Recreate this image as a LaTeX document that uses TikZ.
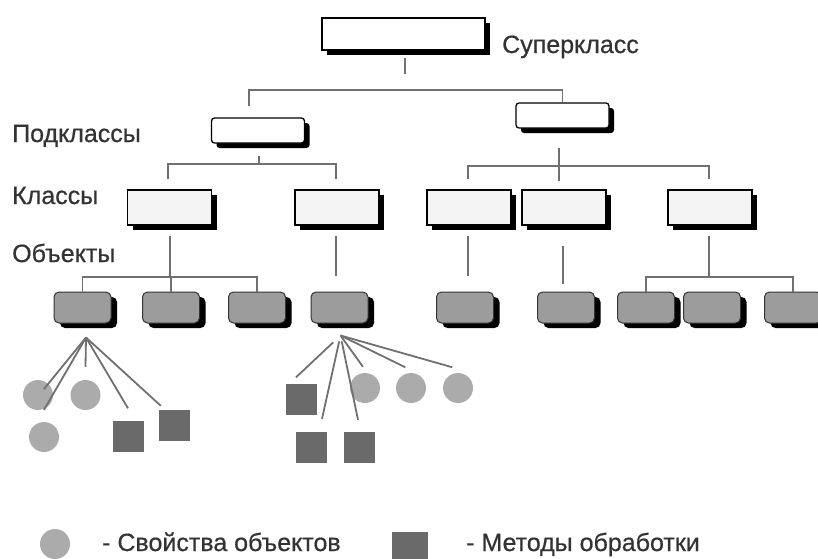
\documentclass[tikz,border=0pt]{standalone}
\usepackage{fontspec}
\setmainfont{Liberation Sans}
\newfontfamily\lblfont{Liberation Sans}[FakeBold=0.6]
\usetikzlibrary{shadows,calc}
\definecolor{txt}{HTML}{333333}
\definecolor{lnk}{HTML}{707070}
\definecolor{objfill}{HTML}{9C9C9C}
\definecolor{clsfill}{HTML}{F4F4F4}
\definecolor{propfill}{HTML}{ABABAB}
\definecolor{methfill}{HTML}{6A6A6A}
\tikzset{
  lbl/.style={anchor=base west, text=txt, inner sep=0pt, font=\lblfont\fontsize{25}{29}\selectfont},
  shd/.style={drop shadow={shadow xshift=5pt, shadow yshift=-5pt, fill=black, opacity=1}},
  supbox/.style={draw=black, line width=2.2pt, fill=white, minimum width=163pt, minimum height=32pt, inner sep=0pt, shd},
  subbox/.style={draw=black, line width=1.3pt, fill=white, rounded corners=3pt, minimum width=93pt, minimum height=25pt, inner sep=0pt, shd},
  clsbox/.style={draw=black, line width=1.3pt, fill=clsfill, minimum width=84pt, minimum height=35pt, inner sep=0pt, shd},
  objbox/.style={draw=black!80, line width=1pt, fill=objfill, rounded corners=5pt, minimum width=57pt, minimum height=31pt, inner sep=0pt, drop shadow={shadow xshift=6pt, shadow yshift=-5pt, fill=black, opacity=1}},
  prop/.style={circle, fill=propfill, minimum size=30pt, inner sep=0pt},
  meth/.style={rectangle, fill=methfill, minimum size=31pt, inner sep=0pt},
  link/.style={draw=lnk, line width=1.8pt},
}
\begin{document}
\begin{tikzpicture}[x=1pt,y=-1pt]
\useasboundingbox (0,0) rectangle (818,558);
% superclass
\node[supbox] (sup) at (403.5,34) {};
\node[lbl] (supL) at (502,53) {Суперкласс};
% subclasses
\node[subbox] (sub1) at (258,130.5) {};
\node[subbox] (sub2) at (562.5,115.5) {};
\node[lbl] (subL) at (12,142) {Подклассы};
% classes
\node[clsbox] (c1) at (169.5,207.5) {};
\node[clsbox] (c2) at (337,207.5) {};
\node[clsbox] (c3) at (469,207.5) {};
\node[clsbox] (c4) at (564,207.5) {};
\node[clsbox] (c5) at (710,207.5) {};
\node[lbl] (clsL) at (12,204) {Классы};
\node[lbl] (objL) at (12,262) {Объекты};
% objects
\node[objbox] (o1) at (82.5,307.5) {};
\node[objbox] (o2) at (171,307.5) {};
\node[objbox] (o3) at (257,307.5) {};
\node[objbox] (o4) at (339.5,307.5) {};
\node[objbox] (o5) at (465,307.5) {};
\node[objbox] (o6) at (566,307.5) {};
\node[objbox] (o7) at (646,307.5) {};
\node[objbox] (o8) at (712,307.5) {};
\node[objbox] (o9) at (793,307.5) {};
% tree connectors
\draw[link] ($(sup.south)+(1.5,7)$) -- ($(sup.south)+(1.5,23)$);
\coordinate (t1) at ($(sup.south)+(0,39)$);
\draw[link] ($(sub1.north)+(-9,-11)$) |- (t1) -| (sub2.north);
\draw[link] ($(sub1.south)+(1,12)$) -- ($(sub1.south)+(1,20)$);
\draw[link] ($(c1.north)+(-1.5,-10)$) |- ($(sub1.south)+(0,20)$) -| ($(c2.north)+(-1,-10)$);
\draw[link] ($(sub2.south)+(-3.5,19)$) -- ($(sub2.south)+(-3.5,52)$);
\draw[link] ($(c3.north)+(-1,-10)$) |- ($(sub2.south)+(0,37)$) -| ($(c5.north)+(-1,-10)$);
\draw[link] ($(c1.south)+(0.5,10)$) -- ($(c1.south)+(0.5,51)$);
\draw[link] (o1.north) |- ($(c1.south)+(0,51)$) -| (o3.north);
\draw[link] (o2.north) -- ($(c1.south)+(1.5,51)$);
\draw[link] ($(c2.south)+(-1,10)$) -- ($(c2.south)+(-1,50)$);
\draw[link] ($(c3.south)+(-1,10)$) -- ($(c3.south)+(-1,50)$);
\draw[link] ($(c4.south)+(-1,20)$) -- ($(c4.south)+(-1,58)$);
\draw[link] ($(c5.south)+(-1,10)$) -- ($(c5.south)+(-1,51)$);
\draw[link] (o7.north) |- ($(c5.south)+(0,51)$) -| (o9.north);
% properties and methods
\node[prop] (pa) at (38,395) {};
\node[prop] (pb) at (85.5,395) {};
\node[prop] (pc) at (44,437) {};
\node[meth] (ma) at (128,436) {};
\node[meth] (mb) at (174.5,425.5) {};
\node[prop] (pd) at (365,388) {};
\node[prop] (pe) at (411,388) {};
\node[prop] (pf) at (458,388) {};
\node[meth] (mc) at (301,399) {};
\node[meth] (md) at (311,447.5) {};
\node[meth] (me) at (359,447.5) {};
\coordinate (o1x) at ($(o1.south)+(3.5,14)$);
\coordinate (o4x) at ($(o4.south)+(1,12)$);
\draw[link] (o1x) -- ($(pa.north east)!0.45!(pa.center)$);
\draw[link] (o1x) -- ($(pc.north)+(0,-12)$);
\draw[link] (o1x) -- ($(pb.north)+(0,-13)$);
\draw[link] (o1x) -- ($(ma.north)+(0,-12)$);
\draw[link] (o1x) -- ($(mb.north west)+(2,-4)$);
\draw[link, shorten <=10pt] (o4x) -- ($(mc.north)+(-5,-6)$);
\draw[link, shorten <=6pt] (o4x) -- ($(md.north)+(11,-13)$);
\draw[link, shorten <=6pt] (o4x) -- ($(me.north)+(-1,-12)$);
\draw[link] (o4x) -- ($(pd.north)+(-2,-6)$);
\draw[link] (o4x) -- ($(pe.north west)+(5,-10)$);
\draw[link] (o4x) -- ($(pf.north west)+(5,-10)$);
% legend
\node[prop] (lp) at (55,544) {};
\node[lbl] (lpL) at (102,551) {- Свойства объектов};
\node[meth, minimum size=36pt] (lm) at (410,550) {};
\node[lbl] (lmL) at (466,551) {- Методы обработки};
\end{tikzpicture}
\end{document}
